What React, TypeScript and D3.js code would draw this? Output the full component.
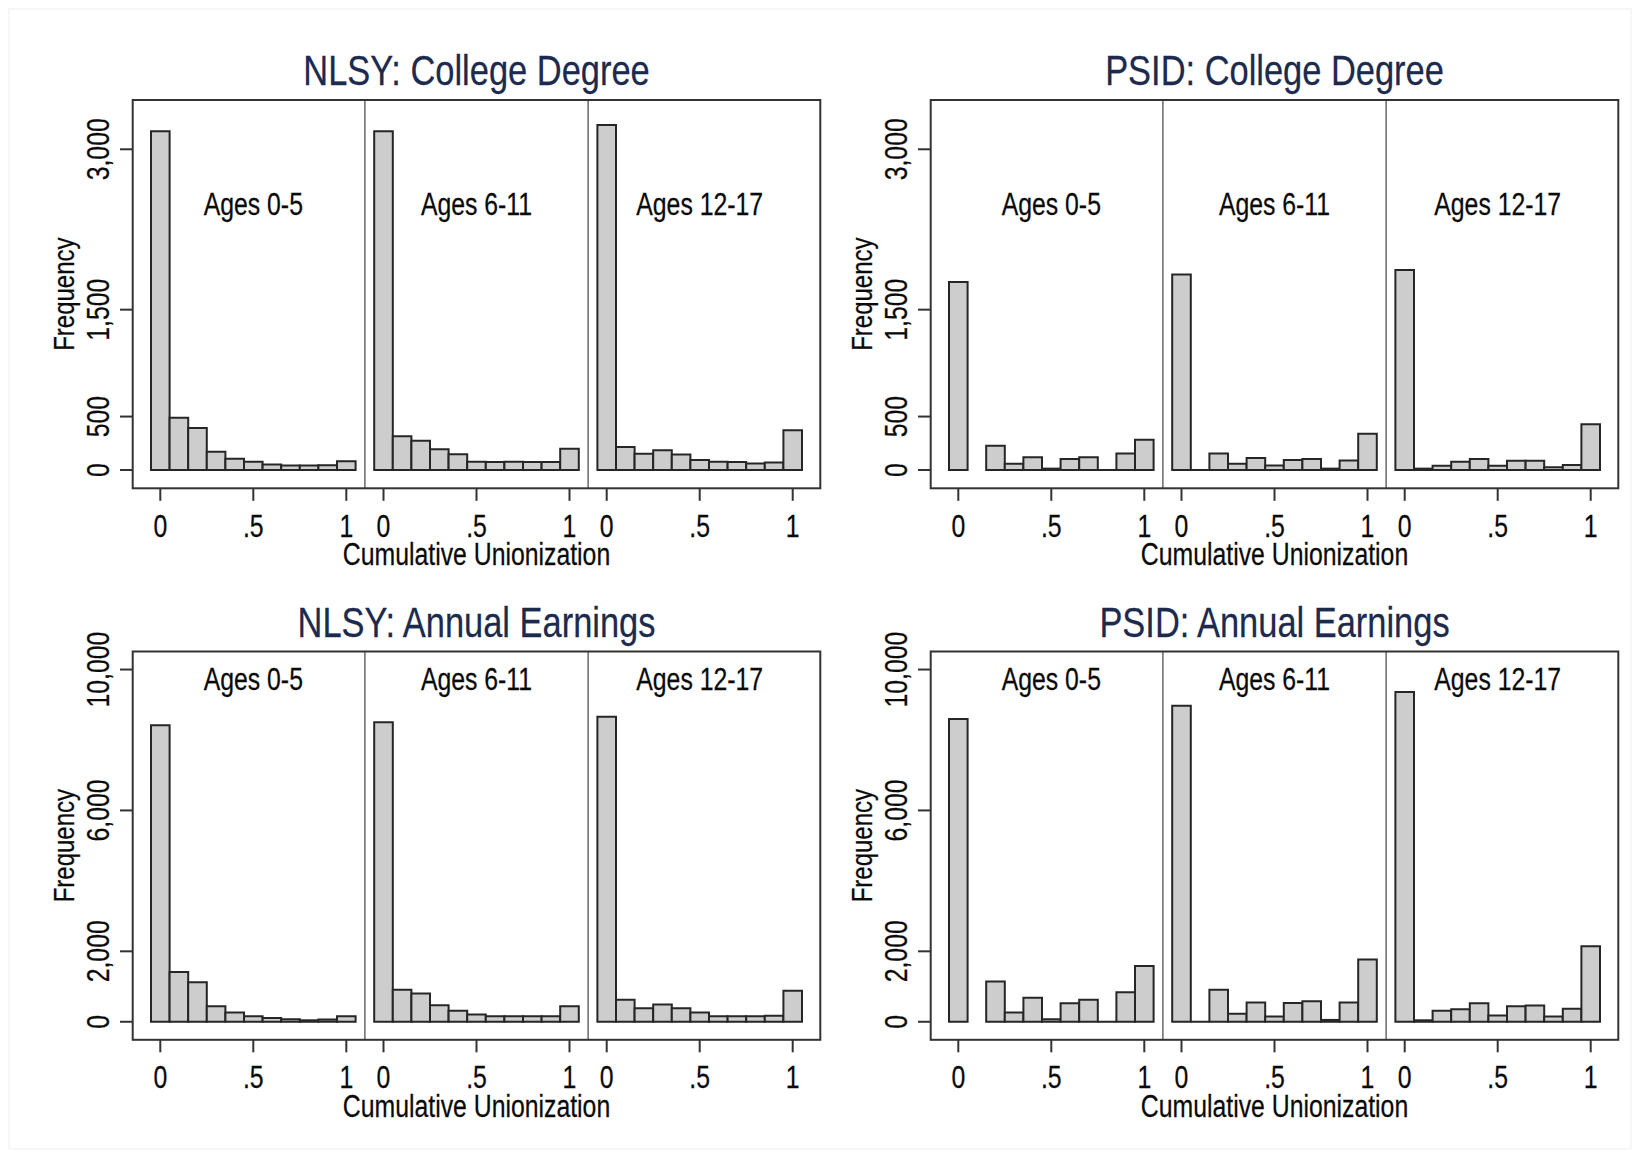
import React from "react";
import * as d3 from "d3";

// ---------- data ----------
const BIN_CENTERS = [0, 0.1, 0.2, 0.3, 0.4, 0.5, 0.6, 0.7, 0.8, 0.9, 1.0];
const AGE_GROUPS = ["Ages 0-5", "Ages 6-11", "Ages 12-17"];
const X_TICKS = [0, 0.5, 1];
const X_TICK_LABELS = ["0", ".5", "1"];
const COLLEGE_Y_TICKS = [0, 500, 1500, 3000];
const EARNINGS_Y_TICKS = [0, 2000, 6000, 10000];
const TITLES = ["NLSY: College Degree", "PSID: College Degree", "NLSY: Annual Earnings", "PSID: Annual Earnings"];
const X_TITLE = "Cumulative Unionization";
const Y_TITLE = "Frequency";

// null = no bar drawn
const nlsyCollege: (number | null)[][] = [
  [3168, 490, 394, 171, 106, 77, 52, 42, 42, 45, 81],
  [3168, 316, 274, 194, 148, 77, 74, 77, 74, 74, 200],
  [3226, 216, 152, 184, 145, 94, 77, 74, 61, 71, 371],
];
const psidCollege: (number | null)[][] = [
  [1758, null, 226, 58, 119, 13, 103, 119, 0, 155, 284],
  [1829, 0, 155, 58, 113, 42, 94, 103, 13, 90, 339],
  [1871, 13, 39, 77, 103, 39, 87, 87, 26, 48, 429],
];
const nlsyEarnings: (number | null)[][] = [
  [8419, 1414, 1120, 440, 262, 157, 105, 73, 42, 63, 157],
  [8503, 911, 806, 471, 314, 209, 157, 157, 157, 157, 440],
  [8660, 628, 387, 492, 387, 262, 157, 157, 157, 168, 880],
];
const psidEarnings: (number | null)[][] = [
  [8597, null, 1141, 262, 681, 73, 524, 628, 0, 838, 1581],
  [8974, 0, 911, 230, 545, 147, 534, 586, 52, 545, 1770],
  [9361, 42, 314, 356, 524, 178, 440, 461, 147, 367, 2147],
];

// ---------- layout ----------
const W = 1640;
const H = 1158;
const COL_X = [132.7, 930.7];
const ROW_Y = [100, 651.5];
const BOX_W = 687.6;
const BOX_H = 388.3;
const OUTER_PAD = 9;
const PANEL_W = (BOX_W - 2 * OUTER_PAD) / 3;
const X_DOMAIN = [-0.1, 1.1];
const BIN_W = 0.1;
const ROW_Y_DOMAIN = [
  [-171, 3461],
  [-512, 10512],
];
const ROW_LABEL_Y = [2390, 9410];

const FONT = "'Liberation Sans', Arial, Helvetica, sans-serif";
const SX = 0.8;
const TITLE_COLOR = "#1c2a4e";
const TEXT_COLOR = "#0a0a0a";
const BAR_FILL = "#cdcdcd";
const BAR_STROKE = "#262626";
const AXIS_COLOR = "#333";

const fmt = d3.format(",");

type ChartSpec = {
  title: string;
  data: (number | null)[][];
  yTicks: number[];
  col: number;
  row: number;
};

const CHARTS: ChartSpec[] = [
  { title: TITLES[0], data: nlsyCollege, yTicks: COLLEGE_Y_TICKS, col: 0, row: 0 },
  { title: TITLES[1], data: psidCollege, yTicks: COLLEGE_Y_TICKS, col: 1, row: 0 },
  { title: TITLES[2], data: nlsyEarnings, yTicks: EARNINGS_Y_TICKS, col: 0, row: 1 },
  { title: TITLES[3], data: psidEarnings, yTicks: EARNINGS_Y_TICKS, col: 1, row: 1 },
];

function Txt(props: {
  x: number;
  y: number;
  size: number;
  text: string;
  rotate?: number;
  anchor?: string;
  fill?: string;
  sx?: number;
}) {
  const { x, y, size, text, rotate = 0, anchor = "middle", fill = TEXT_COLOR, sx = SX } = props;
  return (
    <text
      transform={`translate(${x},${y}) rotate(${rotate}) scale(${sx},1)`}
      textAnchor={anchor}
      fontFamily={FONT}
      fontSize={size}
      fill={fill}
      stroke={fill}
      strokeWidth={0.25}
    >
      {text}
    </text>
  );
}

function Chart({ spec }: { spec: ChartSpec }) {
  const left = COL_X[spec.col];
  const top = ROW_Y[spec.row];
  const bottom = top + BOX_H;
  const right = left + BOX_W;
  const y = d3.scaleLinear().domain(ROW_Y_DOMAIN[spec.row]).range([bottom, top]);
  const centerX = (left + right) / 2;

  return (
    <g>
      {/* title */}
      <Txt x={centerX} y={top - 15} size={42} sx={0.82} text={spec.title} fill={TITLE_COLOR} />

      {/* panels */}
      {spec.data.map((vals, p) => {
        const x0 = left + OUTER_PAD + p * PANEL_W;
        const x = d3.scaleLinear().domain(X_DOMAIN).range([x0, x0 + PANEL_W]);
        return (
          <g key={p}>
            {vals.map((v, i) => {
              if (v === null) return null;
              const c = BIN_CENTERS[i];
              const xa = x(c - BIN_W / 2);
              const xb = x(c + BIN_W / 2);
              const ya = y(v);
              const yb = y(0);
              const d = `M${xa},${yb}V${ya}H${xb}V${yb}Z`;
              return (
                <path
                  key={i}
                  d={d}
                  fill={BAR_FILL}
                  stroke={BAR_STROKE}
                  strokeWidth={2}
                  strokeLinejoin="miter"
                />
              );
            })}
            <Txt x={x(0.5)} y={y(ROW_LABEL_Y[spec.row])} size={31} text={AGE_GROUPS[p]} />
            {X_TICKS.map((t, k) => (
              <g key={k}>
                <line x1={x(t)} x2={x(t)} y1={bottom} y2={bottom + 12.5} stroke={AXIS_COLOR} strokeWidth={2} />
                <Txt x={x(t)} y={bottom + 48.5} size={31} text={X_TICK_LABELS[k]} />
              </g>
            ))}
            {p > 0 && (
              <line x1={x0} x2={x0} y1={top} y2={bottom} stroke="#444" strokeWidth={1.2} />
            )}
          </g>
        );
      })}

      {/* box */}
      <rect x={left} y={top} width={BOX_W} height={BOX_H} fill="none" stroke={AXIS_COLOR} strokeWidth={2} />

      {/* y axis */}
      {spec.yTicks.map((t) => (
        <g key={t}>
          <line x1={left - 12.7} x2={left} y1={y(t)} y2={y(t)} stroke={AXIS_COLOR} strokeWidth={2} />
          <Txt x={left - 24} y={y(t)} size={31} rotate={-90} text={fmt(t)} />
        </g>
      ))}
      <Txt x={left - 59} y={top + BOX_H / 2} size={30} rotate={-90} text={Y_TITLE} />

      {/* x title */}
      <Txt x={centerX} y={bottom + 77} size={31} text={X_TITLE} />
    </g>
  );
}

export default function App() {
  return (
    <svg
      width={W}
      height={H}
      viewBox={`0 0 ${W} ${H}`}
      style={{ position: "absolute", left: 0, top: 0, display: "block", background: "#fff" }}
    >
      <rect x={0} y={0} width={W} height={H} fill="#fff" />
      <rect x={9} y={9} width={W - 18} height={H - 18} fill="none" stroke="#ededed" strokeWidth={1} />
      {CHARTS.map((c, i) => (
        <Chart key={i} spec={c} />
      ))}
    </svg>
  );
}
